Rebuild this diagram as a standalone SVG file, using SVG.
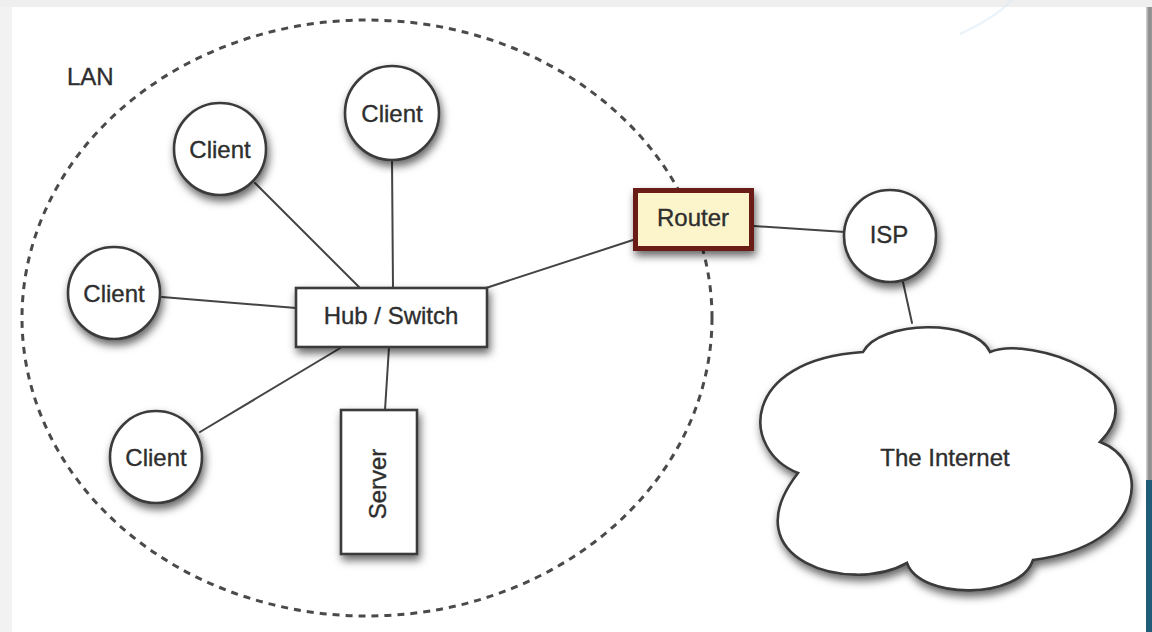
<svg xmlns="http://www.w3.org/2000/svg" width="1152" height="632" viewBox="0 0 1152 632">
  <defs>
    <filter id="shadow" x="-30%" y="-30%" width="160%" height="170%">
      <feDropShadow dx="2" dy="5" stdDeviation="4" flood-color="#000" flood-opacity="0.6"/>
    </filter>
    <linearGradient id="edge" x1="0" y1="0" x2="1" y2="0">
      <stop offset="0" stop-color="#d8d8d8"/>
      <stop offset="0.5" stop-color="#8a8a8a"/>
      <stop offset="1" stop-color="#9a9a9a"/>
    </linearGradient>
    <style>
      .lbl { font-family: "Liberation Sans", Arial, sans-serif; font-size: 24px; fill: #2e2e2e; stroke: #2e2e2e; stroke-width: 0.35; text-anchor: middle; }
      .node { fill: #fff; stroke: #3a3a3a; stroke-width: 2.6; filter: url(#shadow); }
      .link { stroke: #444; stroke-width: 2; fill: none; stroke-linecap: round; }
    </style>
  </defs>

  <!-- page frame -->
  <rect x="0" y="0" width="1152" height="632" fill="#ffffff"/>
  <rect x="0" y="0" width="1152" height="7" fill="#efefef"/>
  <rect x="0" y="7" width="12" height="625" fill="#f2f2f2"/>
  <rect x="1146" y="7" width="6" height="473" fill="url(#edge)"/>
  <rect x="1146" y="480" width="6" height="152" fill="#1e5c78"/>
  <path d="M1012,0 Q995,18 960,34" fill="none" stroke="#dbeaf3" stroke-width="2.5" opacity="0.5"/>

  <!-- LAN boundary -->
  <g id="lan">
    <ellipse cx="367" cy="318" rx="345" ry="298" fill="none" stroke="#4a4a4a" stroke-width="3" stroke-dasharray="7 6"/>
    <text class="lbl" x="67" y="85" style="text-anchor:start">LAN</text>
  </g>

  <!-- connectors -->
  <g id="connectors">
    <line class="link" x1="255" y1="183" x2="360" y2="288"/>
    <line class="link" x1="392" y1="160" x2="393" y2="288"/>
    <line class="link" x1="162" y1="297" x2="296" y2="308"/>
    <line class="link" x1="200" y1="432" x2="342" y2="347"/>
    <line class="link" x1="389" y1="347" x2="385" y2="410"/>
    <line class="link" x1="486" y1="288" x2="633" y2="240"/>
    <line class="link" x1="754" y1="226" x2="845" y2="232"/>
    <line class="link" x1="903" y1="282" x2="912" y2="323"/>
  </g>

  <g id="client-1">
    <circle class="node" cx="220" cy="149" r="46"/>
    <text class="lbl" x="220" y="157.5">Client</text>
  </g>
  <g id="client-2">
    <circle class="node" cx="392" cy="113" r="47"/>
    <text class="lbl" x="392" y="122">Client</text>
  </g>
  <g id="client-3">
    <circle class="node" cx="114" cy="293" r="46"/>
    <text class="lbl" x="114" y="301.5">Client</text>
  </g>
  <g id="client-4">
    <circle class="node" cx="156" cy="457" r="46"/>
    <text class="lbl" x="156" y="465.5">Client</text>
  </g>

  <g id="hub">
    <rect class="node" x="296" y="288" width="191" height="59"/>
    <text class="lbl" x="391" y="324">Hub / Switch</text>
  </g>

  <g id="server">
    <rect class="node" x="341" y="410" width="76" height="144"/>
    <text class="lbl" transform="translate(386,484) rotate(-90)" x="0" y="0">Server</text>
  </g>

  <g id="router">
    <rect x="635.5" y="190.5" width="116" height="58" fill="#fcf5cc" stroke="#6a1b16" stroke-width="5" filter="url(#shadow)"/>
    <text class="lbl" x="693" y="226">Router</text>
  </g>

  <g id="isp">
    <circle class="node" cx="890" cy="236" r="46"/>
    <text class="lbl" x="889" y="242.5">ISP</text>
  </g>

  <g id="internet">
    <path class="node" d="M863,352 C880,320 975,318 990,352 C1030,335 1160,380 1100,442 C1150,460 1150,545 1033,560 C1020,600 920,600 907,563 C850,595 730,560 798,473 C740,450 740,360 863,352 Z"/>
    <text class="lbl" x="945" y="465.5">The Internet</text>
  </g>
</svg>
